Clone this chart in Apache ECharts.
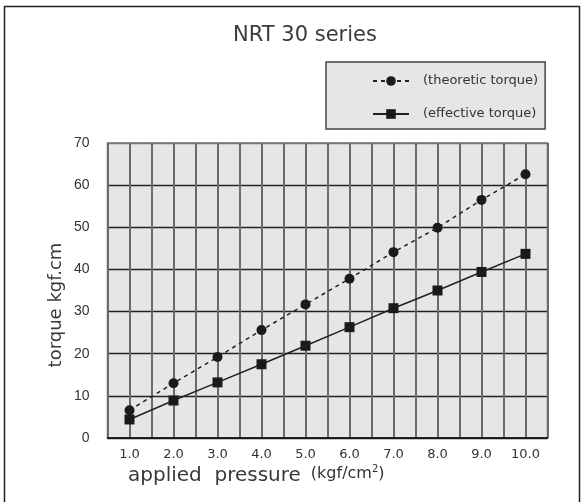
<!DOCTYPE html>
<html>
<head>
<meta charset="utf-8">
<script src="https://cdn.jsdelivr.net/npm/echarts@6/dist/echarts.min.js"></script>
<style>
html,body{margin:0;padding:0;background:#fff;}
#chart{width:584px;height:502px;}
</style>
</head>
<body>
<div id="chart"></div>
<script>
const titleText = 'NRT 30 series';
const seriesNames = ['(theoretic torque)', '(effective torque)'];
const pressures = [1.0, 2.0, 3.0, 4.0, 5.0, 6.0, 7.0, 8.0, 9.0, 10.0];
const theoretic = [6.6, 13.0, 19.2, 25.6, 31.7, 37.8, 44.1, 49.9, 56.5, 62.6];
const effective = [4.4, 8.9, 13.2, 17.5, 21.9, 26.3, 30.8, 35.0, 39.4, 43.7];
const xTickLabels = ['1.0','2.0','3.0','4.0','5.0','6.0','7.0','8.0','9.0','10.0'];
const yName = 'torque kgf.cm';
const xNameMain = 'applied  pressure';
const xNameUnit = '(kgf/cm';
const xNameSup = '2';

const chart = echarts.init(document.getElementById('chart'), null, {renderer:'canvas'});
const FONT = 'DejaVu Sans';
const TICKFONT = 'Liberation Sans';

function pairs(xs, ys){ return xs.map((x,i)=>[x, ys[i]]); }

chart.setOption({
  animation:false,
  backgroundColor:'#ffffff',
  title:{
    text:titleText,
    left:300, top:20, textAlign:'center',
    textStyle:{fontFamily:FONT, fontSize:21, fontWeight:'normal', color:'#3a3a3a'}
  },
  legend:{
    orient:'vertical',
    left:326, top:62,
    padding:[12,7,8,46],
    itemGap:19,
    itemWidth:36, itemHeight:12,
    backgroundColor:'#e6e6e6',
    borderColor:'#444', borderWidth:1.5,
    textStyle:{fontFamily:FONT, fontSize:13, color:'#333', lineHeight:14, padding:[0,0,0,9]},
    data:seriesNames
  },
  grid:{
    left:107.5, right:36.5, top:143, bottom:64,
    show:true, backgroundColor:'#e6e6e6', borderColor:'#777', borderWidth:1.5
  },
  xAxis:{
    type:'value', min:0.5, max:10.5, interval:0.5,
    axisLine:{show:true, onZero:false, lineStyle:{color:'#111', width:1.5}},
    axisTick:{show:false},
    splitLine:{show:true, lineStyle:{color:'#6a6a6a', width:2}},
    axisLabel:{
      margin:10, color:'#333', fontFamily:FONT, fontSize:13,
      showMinLabel:true, showMaxLabel:true,
      formatter:function(v){
        const i = pressures.findIndex(p=>Math.abs(p-v)<1e-6);
        return i>=0 ? xTickLabels[i] : '';
      }
    }
  },
  yAxis:{
    type:'value', min:0, max:70, interval:10,
    axisLine:{show:false},
    axisTick:{show:false},
    splitLine:{show:true, lineStyle:{color:['#222','#222','#222','#222','#222','#222','#222','#777'], width:1.3}},
    axisLabel:{margin:18, color:'#333', fontFamily:TICKFONT, fontSize:14}
  },
  graphic:[
    {type:'rect', shape:{x:4.5, y:6.5, width:575, height:520}, style:{fill:'none', stroke:'#222', lineWidth:1.5}, silent:true},
    {type:'text', x:56, y:305, rotation:Math.PI/2,
     style:{text:yName, fill:'#3a3a3a', font:'18px "DejaVu Sans"', align:'center', verticalAlign:'middle'}},
    {type:'text', x:128, y:476,
     style:{
       text:'{a|'+xNameMain+'}{b|'+xNameUnit+'}{c|'+xNameSup+'}{b|)}',
       verticalAlign:'middle', align:'left',
       rich:{
         a:{fontFamily:FONT, fontSize:20, fill:'#3a3a3a', color:'#3a3a3a', padding:[0,10,0,0]},
         b:{fontFamily:FONT, fontSize:16, fill:'#333', color:'#333', padding:[0,0,5,0]},
         c:{fontFamily:FONT, fontSize:10, fill:'#333', color:'#333', padding:[0,0,14,0]}
       }
     }}
  ],
  series:[
    {
      name:seriesNames[0], type:'line',
      data:pairs(pressures, theoretic),
      symbol:'circle', symbolSize:10,
      itemStyle:{color:'#1a1a1a'},
      lineStyle:{color:'#222', width:1.5, type:[4,4]}
    },
    {
      name:seriesNames[1], type:'line',
      data:pairs(pressures, effective),
      symbol:'rect', symbolSize:10,
      itemStyle:{color:'#1a1a1a'},
      lineStyle:{color:'#222', width:1.5, type:'solid'}
    }
  ]
});
</script>
</body>
</html>
